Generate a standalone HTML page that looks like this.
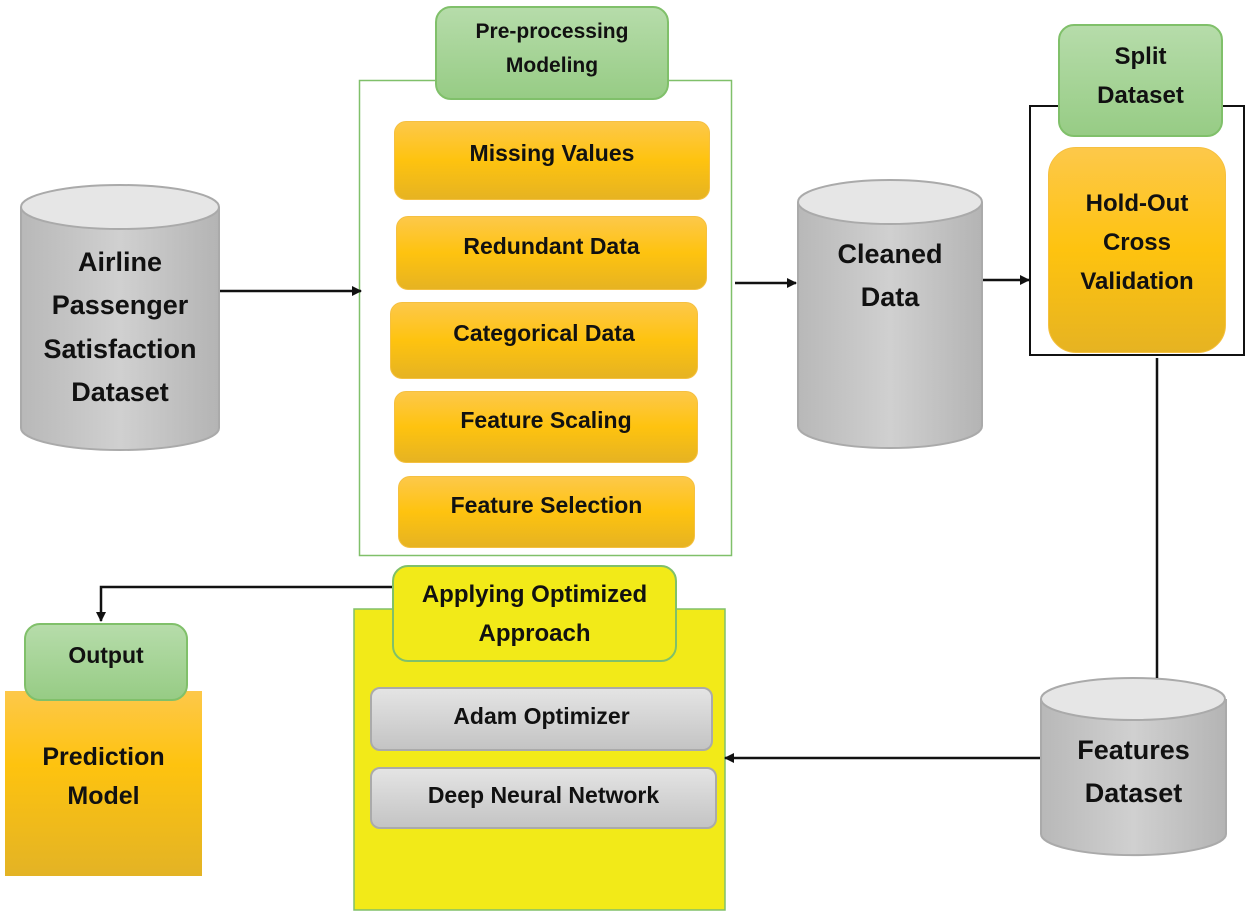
<!DOCTYPE html>
<html><head><style>
body{margin:0;width:1250px;height:916px;background:#fff;position:relative;overflow:hidden;font-family:"Liberation Sans",sans-serif;font-weight:bold;color:#111}
.a{position:absolute;box-sizing:border-box;display:flex;align-items:center;justify-content:center;text-align:center}
.or{background:linear-gradient(#fdc84a,#fec30f 50%,#e6b322);border:1px solid #f5c040;border-radius:12px;font-size:23px;padding-bottom:14px}
.gr{background:linear-gradient(#b6dcaa,#97cc85);border:2px solid #80c06a;border-radius:16px}
.gy{background:linear-gradient(#e4e4e4,#c4c4c4);border:2px solid #aaa;border-radius:10px;font-size:23px;padding-bottom:6px}
</style></head><body>
<svg width="1250" height="916" style="position:absolute;left:0;top:0">
<defs><marker id="m" markerWidth="10" markerHeight="10" refX="9" refY="5" orient="auto" markerUnits="userSpaceOnUse"><path d="M0,0L10,5L0,10z" fill="#111"/></marker>
<linearGradient id="cg" x1="0" x2="1"><stop offset="0" stop-color="#b8b8b8"/><stop offset=".5" stop-color="#d0d0d0"/><stop offset="1" stop-color="#b4b4b4"/></linearGradient>
<linearGradient id="pg" x1="0" y1="0" x2="0" y2="1"><stop offset="0" stop-color="#fdc84a"/><stop offset=".4" stop-color="#fec30f"/><stop offset="1" stop-color="#e3b325"/></linearGradient></defs>
<g stroke="#aaa" stroke-width="2">
<path d="M21,207V428A99,22 0 0 0 219,428V207" fill="url(#cg)"/><ellipse cx="120" cy="207" rx="99" ry="22" fill="#e6e6e6"/>
<path d="M798,202V426A92,22 0 0 0 982,426V202" fill="url(#cg)"/><ellipse cx="890" cy="202" rx="92" ry="22" fill="#e6e6e6"/>
<path d="M1041,699V834A92,21 0 0 0 1226,834V699" fill="url(#cg)"/><ellipse cx="1133" cy="699" rx="92" ry="21" fill="#e6e6e6"/>
</g>
<rect x="359.5" y="80.5" width="372" height="475" fill="none" stroke="#80c06a" stroke-width="1.5"/>
<rect x="1030" y="106" width="214" height="249" fill="none" stroke="#111" stroke-width="2"/>
<rect x="354" y="609" width="371" height="301" fill="#f2ea18" stroke="#80c06a" stroke-width="1.5"/>
<rect x="5" y="691" width="197" height="185" fill="url(#pg)"/>
<g stroke="#111" stroke-width="2.5" fill="none">
<path d="M220,291H361" marker-end="url(#m)"/>
<path d="M735,283H796" marker-end="url(#m)"/>
<path d="M983,280H1029" marker-end="url(#m)"/>
<path d="M1157,358V678"/>
<path d="M1040,758H725" marker-end="url(#m)"/>
<path d="M392,587H101V621" marker-end="url(#m)"/>
</g>
</svg>
<div class="a" style="left:20px;top:240px;width:200px;height:175px;font-size:27px;line-height:43.5px">Airline<br>Passenger<br>Satisfaction<br>Dataset</div>
<div class="a" style="left:797px;top:232px;width:186px;height:88px;font-size:27px;line-height:43px">Cleaned<br>Data</div>
<div class="a" style="left:1040px;top:728px;width:187px;height:88px;font-size:27px;line-height:43px">Features<br>Dataset</div>
<div class="a gr" style="left:435px;top:6px;width:234px;height:94px;font-size:21px;line-height:34px;padding-bottom:8px">Pre-processing<br>Modeling</div>
<div class="a or" style="left:394px;top:121px;width:316px;height:79px">Missing Values</div>
<div class="a or" style="left:396px;top:216px;width:311px;height:74px">Redundant Data</div>
<div class="a or" style="left:390px;top:302px;width:308px;height:77px">Categorical Data</div>
<div class="a or" style="left:394px;top:391px;width:304px;height:72px">Feature Scaling</div>
<div class="a or" style="left:398px;top:476px;width:297px;height:72px">Feature Selection</div>
<div class="a gr" style="left:1058px;top:24px;width:165px;height:113px;font-size:24px;line-height:39px;padding-bottom:10px">Split<br>Dataset</div>
<div class="a or" style="left:1048px;top:147px;width:178px;height:206px;border-radius:28px;font-size:24px;line-height:39px;padding-bottom:16px">Hold-Out<br>Cross<br>Validation</div>
<div class="a" style="left:392px;top:565px;width:285px;height:97px;background:#f2ea18;border:2px solid #80c06a;border-radius:16px;font-size:24px;line-height:39px">Applying Optimized<br>Approach</div>
<div class="a gy" style="left:370px;top:687px;width:343px;height:64px">Adam Optimizer</div>
<div class="a gy" style="left:370px;top:767px;width:347px;height:62px">Deep Neural Network</div>
<div class="a" style="left:5px;top:727px;width:197px;height:100px;font-size:25px;line-height:39px">Prediction<br>Model</div>
<div class="a gr" style="left:24px;top:623px;width:164px;height:78px;font-size:23px;padding-bottom:14px">Output</div>
</body></html>
